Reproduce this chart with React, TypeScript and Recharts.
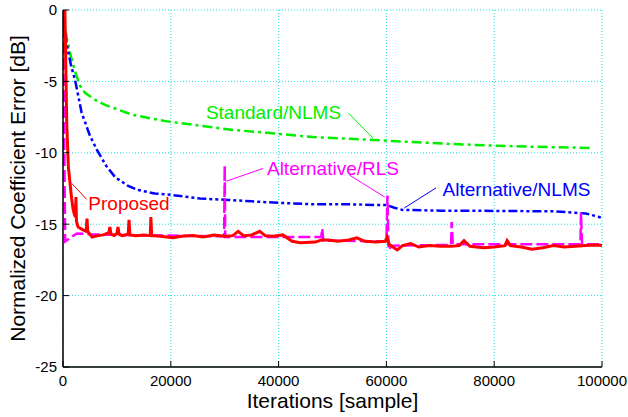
import {
  LineChart,
  Line,
  XAxis,
  YAxis,
  CartesianGrid,
  ReferenceLine,
  ReferenceDot,
} from "recharts";

// [iteration, dB] pairs
const standardNLMS: [number, number][] = [
  [0, 0], [300, -1], [680, -1.9], [1300, -3.0], [2230, -4.3], [3150, -5.3],
  [4080, -5.8], [6000, -6.3], [7800, -6.65], [9650, -6.9], [13000, -7.35],
  [19300, -7.8], [25400, -8.1], [31600, -8.4], [37800, -8.6], [46400, -8.9],
  [57500, -9.1], [65000, -9.25], [72000, -9.38], [79800, -9.5], [90000, -9.6],
  [98300, -9.66],
];

const alternativeNLMS: [number, number][] = [
  [0, 0], [300, -1.5], [900, -2.8], [1500, -3.9], [2230, -4.9], [3460, -7.2],
  [5000, -8.8], [6300, -9.8], [8000, -10.9], [9650, -11.7], [12000, -12.3],
  [13900, -12.6], [17000, -12.85], [20200, -12.95], [25400, -13.2],
  [30600, -13.3], [35000, -13.4], [39900, -13.5], [46400, -13.6],
  [52000, -13.6], [58000, -13.65], [60000, -13.65], [61500, -13.85],
  [63000, -14.0], [70000, -14.05], [80000, -14.07], [91300, -14.1],
  [95000, -14.2], [97000, -14.25], [99000, -14.45], [100000, -14.55],
];

const alternativeRLS: [number, number][] = [
  [0, 0], [400, -16.2], [800, -16.1], [1500, -15.9], [2600, -15.65],
  [5000, -15.7], [10000, -15.75], [20000, -15.8], [29900, -15.85],
  [30000, -10.9], [30100, -15.9], [40000, -15.9], [47900, -15.9],
  [48100, -15.3], [48300, -16.15], [60000, -16.2], [60200, -13.0],
  [60400, -16.8], [61000, -16.5], [72000, -16.45], [72100, -14.85],
  [72300, -16.4], [96000, -16.4], [96100, -14.2], [96300, -16.4],
  [100000, -16.4],
];

const proposed: [number, number][] = [
  [0, -1], [350, 0], [700, -8], [1000, -11], [1300, -12.1], [1600, -13.2],
  [1850, -13.9], [2100, -14.3], [2300, -14.5], [2400, -13.1], [2500, -14.8],
  [2800, -15.2], [3700, -15.4], [4300, -15.5], [4450, -14.6], [4600, -15.5],
  [5400, -15.9], [6500, -15.8], [7500, -15.75], [8500, -15.6], [8700, -15.2],
  [8900, -15.7], [9500, -15.8], [10000, -15.65], [10200, -15.2],
  [10400, -15.7], [11000, -15.8], [12100, -15.7], [12250, -14.7],
  [12400, -15.75], [13500, -15.8], [15000, -15.75], [16200, -15.8],
  [16300, -14.5], [16450, -15.8], [18000, -15.85], [20400, -15.95],
  [22000, -15.85], [24100, -15.8], [26000, -15.9], [28000, -15.75],
  [30000, -15.85], [31500, -15.8], [32500, -15.5], [33500, -15.8],
  [35000, -15.75], [36500, -15.5], [37500, -15.8], [39000, -15.85],
  [40800, -15.75], [42500, -16.2], [44000, -16.3], [46800, -16.25],
  [48000, -16.1], [49200, -16.1], [51000, -16.2], [53000, -16.1],
  [54500, -15.95], [56000, -16.2], [58000, -16.25], [59800, -16.2],
  [60100, -15.9], [60500, -16.4], [61000, -16.55], [62000, -16.8],
  [63000, -16.5], [64500, -16.35], [66000, -16.6], [68000, -16.5],
  [70000, -16.55], [72000, -16.55], [73500, -16.5], [74400, -16.15],
  [75500, -16.55], [78000, -16.65], [80000, -16.6], [82000, -16.5],
  [82400, -16.15], [83000, -16.5], [85000, -16.6], [87000, -16.75],
  [89000, -16.65], [91000, -16.5], [93000, -16.6], [95000, -16.55],
  [97000, -16.5], [99000, -16.45], [100000, -16.5],
];

const xTicks = [0, 20000, 40000, 60000, 80000, 100000];
const yTicks = [0, -5, -10, -15, -20, -25];

const toRows = (pts: [number, number][]) => pts.map(([x, y]) => ({ x, y }));

const GREEN = "#00ee00";
const BLUE = "#0000ff";
const MAGENTA = "#ff00ff";
const RED = "#ff0000";
const FONT = "'Liberation Sans', Arial, sans-serif";

export default function App() {
  return (
    <div style={{ position: "absolute", left: 0, top: 0 }}>
      <LineChart
        width={628}
        height={417}
        margin={{ top: 10, right: 26, bottom: 0, left: 0 }}
        style={{ fontFamily: FONT }}
      >
        <CartesianGrid stroke="#22dddd" strokeDasharray="1 2" strokeWidth={1} />
        <XAxis
          dataKey="x"
          type="number"
          domain={[0, 100000]}
          ticks={xTicks}
          allowDataOverflow
          height={50}
          tickSize={-6}
          tickMargin={14}
          tick={{ fill: "#000", fontSize: 15 }}
          stroke="#000"
          axisLine={{ stroke: "#000", strokeWidth: 1.5 }}
          label={{
            value: "Iterations [sample]",
            position: "insideBottom",
            offset: 9,
            fill: "#000",
            fontSize: 21,
          }}
        />
        <XAxis
          xAxisId="top"
          orientation="top"
          dataKey="x"
          type="number"
          domain={[0, 100000]}
          ticks={xTicks}
          height={0}
          tickSize={-6}
          tick={false}
          stroke="#000"
          axisLine={{ stroke: "#000", strokeWidth: 1.5 }}
        />
        <YAxis
          type="number"
          domain={[-25, 0]}
          ticks={yTicks}
          allowDataOverflow
          width={63}
          tickSize={-6}
          tickMargin={12}
          tick={{ fill: "#000", fontSize: 15 }}
          stroke="#000"
          axisLine={{ stroke: "#000", strokeWidth: 1.5 }}
          label={{
            value: "Normalized Coefficient Error [dB]",
            angle: -90,
            position: "insideLeft",
            offset: 18,
            fill: "#000",
            fontSize: 21,
            style: { textAnchor: "middle" },
          }}
        />
        <YAxis
          yAxisId="right"
          orientation="right"
          type="number"
          domain={[-25, 0]}
          ticks={yTicks}
          width={0}
          tickSize={-6}
          tick={false}
          stroke="#000"
          axisLine={{ stroke: "#000", strokeWidth: 1.5 }}
        />

        <Line
          data={toRows(standardNLMS)}
          dataKey="y"
          type="linear"
          stroke={GREEN}
          strokeWidth={2.5}
          strokeDasharray="10 4 3 4"
          dot={false}
          isAnimationActive={false}
        />
        <Line
          data={toRows(alternativeNLMS)}
          dataKey="y"
          type="linear"
          stroke={BLUE}
          strokeWidth={2.5}
          strokeDasharray="9 3 3 3 3 3"
          dot={false}
          isAnimationActive={false}
        />
        <Line
          data={toRows(alternativeRLS)}
          dataKey="y"
          type="linear"
          stroke={MAGENTA}
          strokeWidth={2.5}
          strokeDasharray="12 4"
          dot={false}
          isAnimationActive={false}
        />
        <Line
          data={toRows(proposed)}
          dataKey="y"
          type="linear"
          stroke={RED}
          strokeWidth={3}
          dot={false}
          isAnimationActive={false}
        />

        {/* leader lines */}
        <ReferenceLine segment={[{ x: 52900, y: -7.2 }, { x: 57500, y: -8.96 }]} stroke={GREEN} strokeWidth={1} />
        <ReferenceLine segment={[{ x: 30200, y: -12.0 }, { x: 37100, y: -11.1 }]} stroke={MAGENTA} strokeWidth={1} />
        <ReferenceLine segment={[{ x: 53100, y: -11.55 }, { x: 59700, y: -13.1 }]} stroke={MAGENTA} strokeWidth={1} />
        <ReferenceLine segment={[{ x: 69200, y: -12.46 }, { x: 63300, y: -13.87 }]} stroke={BLUE} strokeWidth={1} />
        <ReferenceLine segment={[{ x: 1610, y: -12.14 }, { x: 4390, y: -13.26 }]} stroke={RED} strokeWidth={1} />

        {/* series labels */}
        <ReferenceDot x={39050} y={-7.14} r={0} stroke="none" fill="none"
          label={{ value: "Standard/NLMS", position: "center", fill: GREEN, fontSize: 19 }} />
        <ReferenceDot x={50090} y={-11.06} r={0} stroke="none" fill="none"
          label={{ value: "Alternative/RLS", position: "center", fill: MAGENTA, fontSize: 19 }} />
        <ReferenceDot x={84140} y={-12.53} r={0} stroke="none" fill="none"
          label={{ value: "Alternative/NLMS", position: "center", fill: BLUE, fontSize: 19 }} />
        <ReferenceDot x={12250} y={-13.5} r={0} stroke="none" fill="none"
          label={{ value: "Proposed", position: "center", fill: RED, fontSize: 19 }} />
      </LineChart>
    </div>
  );
}
